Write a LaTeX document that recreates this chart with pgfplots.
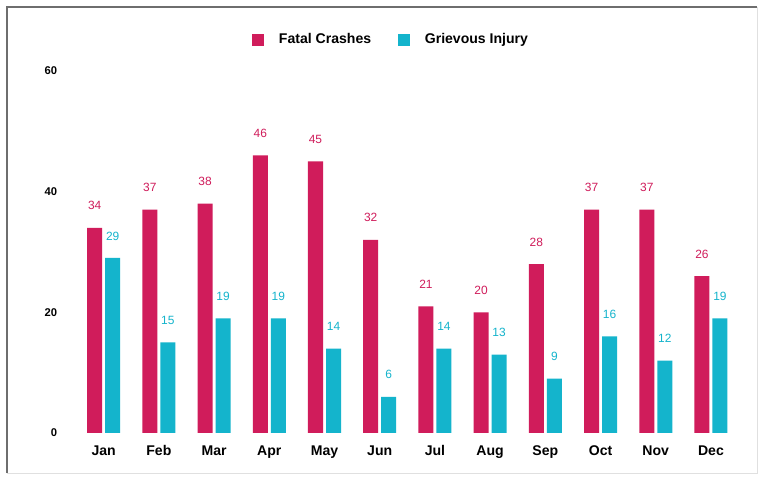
\documentclass[border=0pt]{standalone}
\usepackage{pgfplots}
\pgfplotsset{compat=1.18}
\usepackage{fontspec}
\setmainfont{Liberation Sans}
\definecolor{fatal}{HTML}{D01C5B}
\definecolor{griev}{HTML}{14B4CC}
\definecolor{frame}{HTML}{6E6E6E}

\begin{document}
\begin{tikzpicture}
\begin{scope}[x=0.025cm,y=0.025cm]
\fill[white] (0,0) rectangle (764,476);
\draw[frame,line width=1.6pt] (7,3) -- (7,469) -- (757,469);
\draw[black!12,line width=0.6pt] (757,469) -- (757,3) -- (7,3);
\end{scope}
\begin{axis}[
    at={(1.625cm,1.075cm)}, anchor=south west,
    scale only axis, width=17cm, height=9.05cm,
    ybar=0.075cm, bar width=0.375cm,
    xmin=-0.7, xmax=11.62, ymin=0, ymax=60,
    axis line style={draw=none}, tick style={draw=none}, clip=false,
    /pgf/number format/assume math mode=true,
    xtick={0,...,11},
    xticklabels={Jan,Feb,Mar,Apr,May,Jun,Jul,Aug,Sep,Oct,Nov,Dec},
    ytick={0,20,40,60},
    y tick label style={font=\fontsize{8}{9}\selectfont\bfseries, xshift=-2pt},
    x tick label style={font=\fontsize{10}{12}\selectfont\bfseries, yshift=-1pt},
    nodes near coords,
    every node near coord/.append style={font=\fontsize{8.5}{10}\selectfont, anchor=center, yshift=0.55cm},
    legend style={at={(0.48,1.086)}, anchor=center, draw=none, fill=none,
        legend columns=2, font=\fontsize{10}{12}\selectfont\bfseries,
        /tikz/every odd column/.append style={column sep=0.3cm},
        /tikz/every even column/.append style={column sep=0.6cm}},
    legend image code/.code={\fill[#1] (0cm,-0.15cm) rectangle (0.3cm,0.15cm);},
]
\addplot[fill=fatal, draw=none, every node near coord/.append style={text=fatal}]
  coordinates {(0,34)(1,37)(2,38)(3,46)(4,45)(5,32)(6,21)(7,20)(8,28)(9,37)(10,37)(11,26)};
\addplot[fill=griev, draw=none, every node near coord/.append style={text=griev}]
  coordinates {(0,29)(1,15)(2,19)(3,19)(4,14)(5,6)(6,14)(7,13)(8,9)(9,16)(10,12)(11,19)};
\legend{Fatal Crashes, Grievous Injury}
\end{axis}
\end{tikzpicture}
\end{document}
